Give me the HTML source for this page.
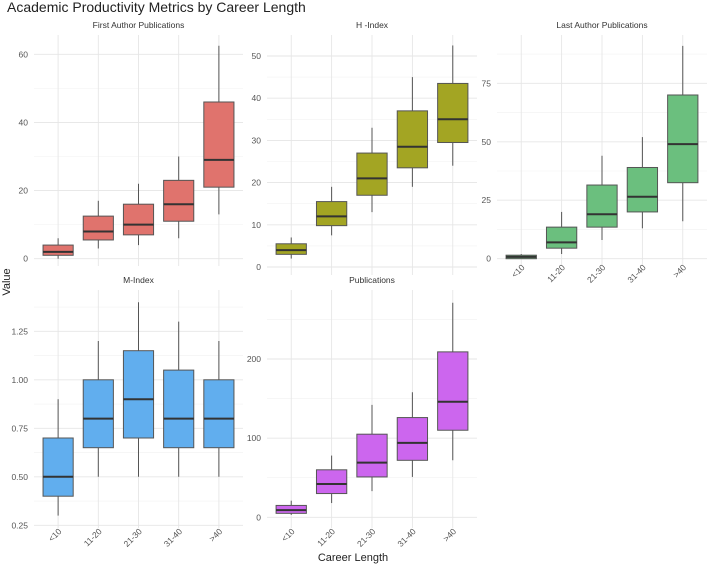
<!DOCTYPE html>
<html><head><meta charset="utf-8"><style>
body{margin:0;background:#fff}
svg{display:block;font-family:"Liberation Sans",sans-serif}
</style></head><body>
<svg id="c" width="707" height="564">
<text x="7" y="12" font-size="14" fill="#222">Academic Productivity Metrics by Career Length</text>
<text x="353" y="561" font-size="11" fill="#222" text-anchor="middle">Career Length</text>
<text transform="translate(10,282) rotate(-90)" font-size="11" fill="#222" text-anchor="middle">Value</text>
</svg>
<script>
const categories = ["<10","11-20","21-30","31-40",">40"];
const faStats = [[0,1,2,4,6],[3,5.5,8,12.5,17],[4,7,10,16,22],[6,11,16,23,30],[13,21,29,46,62.5]];
const hStats = [[2,3,4,5.5,7],[7.5,9.8,12,15.5,19],[13,17,21,27,33],[19,23.5,28.5,37,45],[24,29.5,35,43.5,52.5]];
const laStats = [[0,0,0.8,1.5,2],[2,4.5,7,13.5,20],[8,13.5,19,31.5,44],[13,20,26.5,39,52],[16,32.5,49,70,91]];
const mStats = [[0.3,0.4,0.5,0.7,0.9],[0.5,0.65,0.8,1.0,1.2],[0.5,0.7,0.9,1.15,1.4],[0.5,0.65,0.8,1.05,1.3],[0.5,0.65,0.8,1.0,1.2]];
const pubStats = [[3,5,9,15,21],[18,30,42,60,78],[33,51,69,105,142],[51,72,94,126,158],[72,110,146,209,271]];
const faTicks=[0,20,40,60], hTicks=[0,10,20,30,40,50], laTicks=[0,25,50,75], mTicks=[0.25,0.5,0.75,1.0,1.25], pubTicks=[0,100,200];
const panels=[
 {title:"First Author Publications",stats:faStats,ticks:faTicks,fmt:v=>v,color:"#E0736D",x0:34,x1:243,y0:35,y1:266,v0:0,p0:258.7,v1:60,p1:54.3,xlab:false},
 {title:"H -Index",stats:hStats,ticks:hTicks,fmt:v=>v,color:"#A3A523",x0:267,x1:477,y0:35,y1:275,v0:0,p0:267,v1:50,p1:56,xlab:false},
 {title:"Last Author Publications",stats:laStats,ticks:laTicks,fmt:v=>v,color:"#6BBF7E",x0:497,x1:707,y0:35,y1:266,v0:0,p0:258.7,v1:75,p1:83.3,xlab:true,ly:268},
 {title:"M-Index",stats:mStats,ticks:mTicks,fmt:v=>v.toFixed(2),color:"#61AEEE",x0:34,x1:243,y0:290,y1:528,v0:0.25,p0:525.3,v1:1.25,p1:331.3,xlab:true,ly:532},
 {title:"Publications",stats:pubStats,ticks:pubTicks,fmt:v=>v,color:"#CC66EE",x0:267,x1:477,y0:290,y1:528,v0:0,p0:517.3,v1:200,p1:359,xlab:true,ly:532}
];
const svg=document.getElementById('c');const NS="http://www.w3.org/2000/svg";
function mk(t,a,p){const e=document.createElementNS(NS,t);for(const k in a)e.setAttribute(k,a[k]);(p||svg).appendChild(e);return e;}
panels.forEach((P,pi)=>{
 const g=mk('g',{});
 
 
 const y=v=>P.p0+(v-P.v0)*(P.p1-P.p0)/(P.v1-P.v0);
 const step=(P.x1-P.x0)/5.2; const xs=i=>P.x0+step*(i+0.6);
 const bw=step*0.75;
 // minor grid
 const d=P.ticks[1]-P.ticks[0];
 for(let v=P.ticks[0]-d/2;v<=P.ticks[P.ticks.length-1]+d;v+=d/2){const yy=y(v);if(yy<P.y0||yy>P.y1)continue;mk('line',{x1:P.x0,x2:P.x1,y1:yy,y2:yy,stroke:"#f2f2f2","stroke-width":0.6},g);}
 P.ticks.forEach(v=>{const yy=y(v);mk('line',{x1:P.x0,x2:P.x1,y1:yy,y2:yy,stroke:"#e6e6e6","stroke-width":0.9},g);
  const t=mk('text',{x:P.x0-6,y:yy+3,"font-size":8.5,fill:"#555","text-anchor":"end"},g);t.textContent=P.fmt(v);
  
  });
 categories.forEach((c,i)=>{mk('line',{x1:xs(i),x2:xs(i),y1:P.y0,y2:P.y1,stroke:"#e6e6e6","stroke-width":0.9},g);});
 const tt=mk('text',{x:(P.x0+P.x1)/2,y:P.y0-7,"font-size":8.5,fill:"#333","text-anchor":"middle"},g);tt.textContent=P.title;
 
 
 P.stats.forEach((s,i)=>{
  const b=mk('g',{},g);
  
  
  const x=xs(i);
  mk('line',{x1:x,x2:x,y1:y(s[0]),y2:y(s[4]),stroke:"#555","stroke-width":1},b);
  mk('rect',{x:x-bw/2,y:y(s[3]),width:bw,height:Math.max(1,y(s[1])-y(s[3])),fill:P.color,stroke:"#555","stroke-width":1},b);
  mk('line',{x1:x-bw/2,x2:x+bw/2,y1:y(s[2]),y2:y(s[2]),stroke:"#333","stroke-width":2},b);
 });
 if(P.xlab){categories.forEach((c,i)=>{const t=mk('text',{transform:`translate(${xs(i)+4},${P.ly}) rotate(-45)`,"font-size":8.5,fill:"#555","text-anchor":"end"},g);t.textContent=c;
  
  });}
});
</script>
</body></html>
